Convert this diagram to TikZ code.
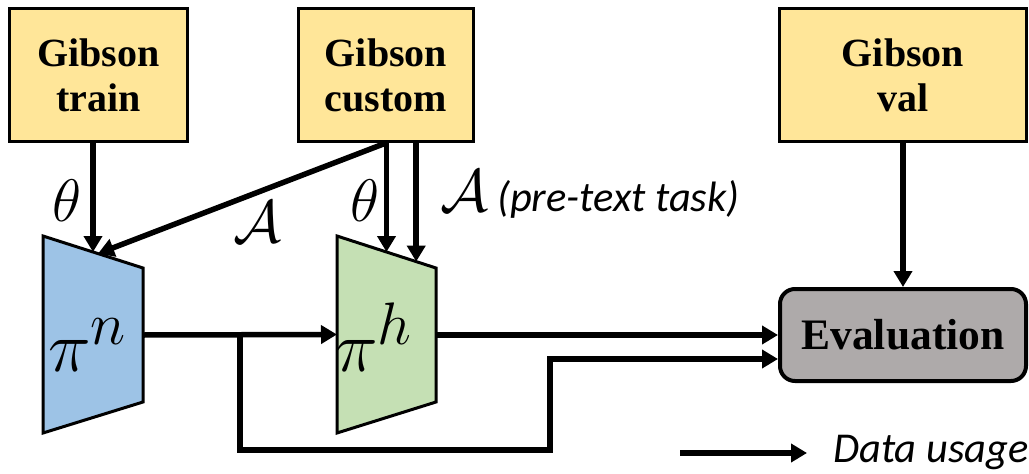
\RequirePackage{fix-cm}
\documentclass[tikz,border=0pt]{standalone}
\usepackage{fontspec}
\setmainfont{Liberation Serif}
\newfontfamily\notefont{Carlito}
\usepackage{tikz}
\usetikzlibrary{arrows.meta, calc}

\DeclareMathSizes{72}{72}{60}{48}

\definecolor{setyellow}{HTML}{FFE699}
\definecolor{piblue}{HTML}{9DC3E6}
\definecolor{pigreen}{HTML}{C5E0B4}
\definecolor{evalgray}{HTML}{AEAAAA}

\begin{document}
\begin{tikzpicture}[
    x = 1pt, y = -1pt,
    S/.style = {draw, line width=3pt, fill=setyellow, minimum height=133pt, inner sep=0pt,
                align=center, font=\fontsize{40}{45}\selectfont\bfseries},
    P/.style = {draw, line width=3pt},
    M/.style = {inner sep=0pt, font=\fontsize{60}{60}\selectfont},
    N/.style = {inner sep=0pt, font=\fontsize{42.5}{45}\selectfont\notefont\itshape},
    use/.style = {line width=5.5pt, -{Triangle[length=16pt, width=18pt]}}
    ]
    \useasboundingbox (0,0) rectangle (1029,474);
    \begin{scope}[nodes=S]
        \node[minimum width=178pt] (train) at (98.5,75) {Gibson\\train};
        \node[minimum width=175pt] (custom) at (386,75) {Gibson\\custom};
        \node[minimum width=247pt] (val) at (903,75) {Gibson\\val};
    \end{scope}
    \node[draw, line width=4pt, fill=evalgray, rounded corners=15pt, minimum width=246pt,
          minimum height=92pt, font=\fontsize{43.5}{45}\selectfont\bfseries] (eval) at (903,335) {Evaluation};
    \draw[P, fill=piblue] (43,236) coordinate (nTL) -- (143,268) coordinate (nTR)
        -- (143,402) coordinate (nBR) -- (43,433) coordinate (nBL) -- cycle;
    \draw[P, fill=pigreen] (337,236) coordinate (hTL) -- (436,268) coordinate (hTR)
        -- (436,402) coordinate (hBR) -- (337,433) coordinate (hBL) -- cycle;
    \node[inner sep=0pt, anchor=base west, font=\fontsize{72}{72}\selectfont] (pin) at (48,371) {$\pi^{n}$};
    \node[inner sep=0pt, anchor=base west, font=\fontsize{72}{72}\selectfont] (pih) at (335,371) {$\pi^{h}$};
    \coordinate (nTop) at ($(nTL)!0.5!(nTR)$);
    \coordinate (nIn) at ($(nTL)!0.55!(nTR)$);
    \coordinate (hTop) at ($(hTL)!0.5!(hTR)$);
    \coordinate (hAug) at ($(hTL)!0.8!(hTR)$);
    \coordinate (nOut) at ($(nTR)!0.5!(nBR)$);
    \coordinate (hIn) at ($(hTL)!0.5!(hBL)$);
    \coordinate (hOut) at ($(hTR)!0.5!(hBR)$);
    \coordinate (split) at (240,335);
    \coordinate (bend) at (550,450);
    \begin{scope}[use]
        \draw (train.south -| nTop) -- (nTop);
        \draw (custom.south) -- (nIn);
        \draw (custom.south -| hTop) -- (hTop);
        \draw (custom.south -| hAug) -- (hAug);
        \draw (nOut) -- (hIn);
        \draw (hOut) -- (eval.west);
        \draw (split) |- (bend) |- ([yshift=-24pt]eval.west);
        \draw (val.south) -- (eval.north);
    \end{scope}
    \node[M] (th1) at (67.5,201) {$\theta$};
    \node[M] (th2) at (365,201) {$\theta$};
    \node[M] (aug1) at (257.5,221.5) {$\mathcal{A}$};
    \node[M, anchor=base west] (aug2) at (440,211) {$\mathcal{A}$};
    \node[N, anchor=base west] (task) at (497,211) {(pre-text task)};
    \node[N, anchor=base west] (legend) at (833,462) {Data usage};
    \coordinate (legstart) at (680,453);
    \draw[use] (legstart) -- ([xshift=-26pt, yshift=9pt]legend.base west);
\end{tikzpicture}
\end{document}
